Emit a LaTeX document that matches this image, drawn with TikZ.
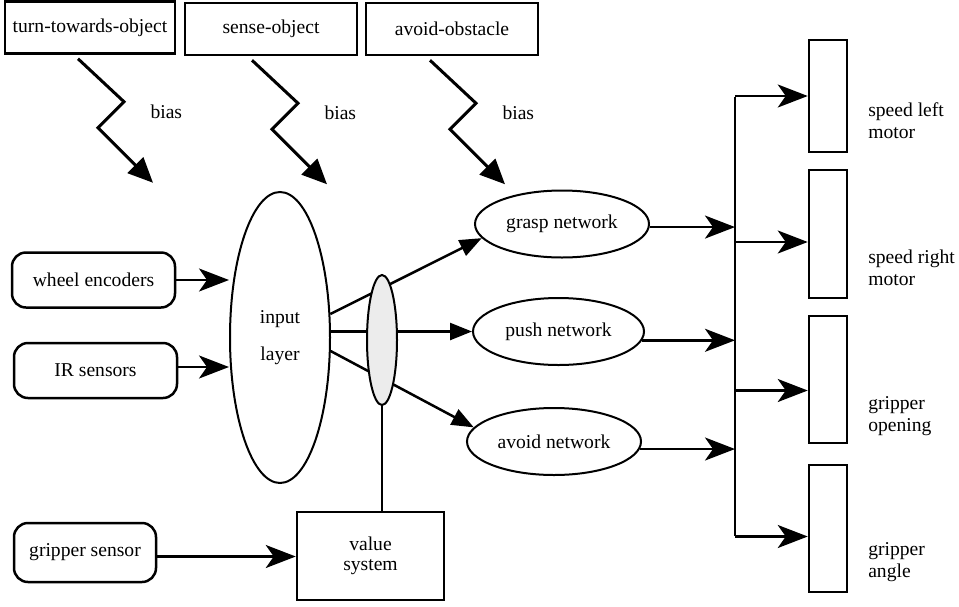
\documentclass[tikz,border=0pt]{standalone}
\usepackage{fontspec}
\setmainfont{Liberation Serif}
\usetikzlibrary{arrows.meta,shapes.geometric}

\begin{document}
\begin{tikzpicture}[x=1pt, y=-1pt, line width=2.5pt,
	every node/.style={font=\fontsize{19.6}{22}\selectfont, inner sep=0pt, align=center},
	taskbox/.style={draw, rectangle, minimum width=#1, minimum height=52pt},
	sensbox/.style={draw, rounded corners=14pt, minimum height=55pt},
	net/.style={draw, ellipse, line width=2pt, minimum width=174pt, minimum height=67pt},
	outbox/.style={draw, rectangle, minimum width=38pt},
	outlabel/.style={anchor=west, align=left},
	biasarrow/.style={-{Triangle[length=25pt,width=22pt]}, line width=3pt},
	netarrow/.style={-{Triangle[length=22pt,width=17pt]}},
	sigarrow/.style={-{Stealth[length=30pt,width=23pt,inset=8pt]}}]
	\useasboundingbox (0,0) rectangle (959,606);
	% behaviours on top
	\node [taskbox=170pt] (turn) at (90,27.5) {turn-towards-object};
	\node [taskbox=172pt] (sense) at (271,29) {sense-object};
	\node [taskbox=172pt] (avoid) at (452,29) {avoid-obstacle};
	\foreach \b/\dx in {turn/-12, sense/-19, avoid/-22}
	\draw [biasarrow] ([xshift=\dx pt, yshift=-4pt]\b.south) -- ++(46,43) node [anchor=west, xshift=25pt, yshift=-10pt] (bias\b) {bias} -- ++(-26,26) -- ++(55,55);
	% sensors and input layer
	\node [draw, ellipse, line width=2pt, minimum width=100pt, minimum height=291pt] (input) at (280,337.5) {input\\[15pt]layer};
	\node [sensbox, minimum width=163pt] (wheel) at (93.5,280) {wheel encoders};
	\node [sensbox, minimum width=163pt] (irsens) at (95.5,370.5) {IR sensors};
	\node [sensbox, minimum width=142pt, minimum height=59pt] (gripsens) at (85,552.5) {gripper sensor};
	\node [draw, minimum width=147pt, minimum height=88pt] (valuesys) at (370.5,556) {value\\[-2pt]system};
	% networks
	\node [net] (grasp) at (562,224) {grasp network};
	\node [net, minimum width=171pt] (push) at (558.5,331.5) {push network};
	\node [net] (avoidnet) at (554,441.5) {avoid network};
	% outputs
	\node [outbox, minimum height=112pt] (lmotor) at (828,96) {};
	\node [outbox, minimum height=128pt] (rmotor) at (828,234) {};
	\node [outbox, minimum height=127pt] (gopen) at (828,379.5) {};
	\node [outbox, minimum height=127pt] (gangle) at (828,528.5) {};
	\node [outlabel] (lmotorlbl) at (867,121) {speed left\\motor};
	\node [outlabel] (rmotorlbl) at (867,268) {speed right\\motor};
	\node [outlabel] (gopenlbl) at (867,416) {gripper\\opening};
	\node [outlabel] (ganglelbl) at (867,562) {gripper\\angle};
	% connections
	\draw [sigarrow] (wheel.east) -- (wheel.east -| input.west);
	\draw [sigarrow] ([yshift=3.5pt]irsens.east) -- ([yshift=3.5pt]irsens.east -| input.west);
	\draw [sigarrow] ([yshift=-4pt]gripsens.east) -- ([yshift=-4pt]gripsens.east -| valuesys.west);
	\draw [netarrow] (input.25) -- (grasp.190);
	\draw [netarrow] (push.west -| input.east) -- (push.west);
	\draw [netarrow] (input.-15) -- (avoidnet.170);
	\node [draw, ellipse, line width=2pt, fill=gray!15, minimum width=30pt, minimum height=130pt] (gate) at (382,340) {};
	\draw (gate.south) -- (gate.south |- valuesys.north);
	\coordinate (bus) at (735,97);
	\coordinate (busend) at (735,536);
	\draw (bus) -- (busend);
	\draw [sigarrow] (grasp.-2) -- (grasp.-2 -| bus);
	\draw [sigarrow] (push.-6) -- (push.-6 -| bus);
	\draw [sigarrow] (avoidnet.-5) -- (avoidnet.-5 -| bus);
	\foreach \m/\dy in {lmotor/0, rmotor/8, gopen/11, gangle/8}
	\draw [sigarrow] ([yshift=-\dy pt]\m.west -| bus) -- ([yshift=-\dy pt]\m.west);
\end{tikzpicture}
\end{document}
